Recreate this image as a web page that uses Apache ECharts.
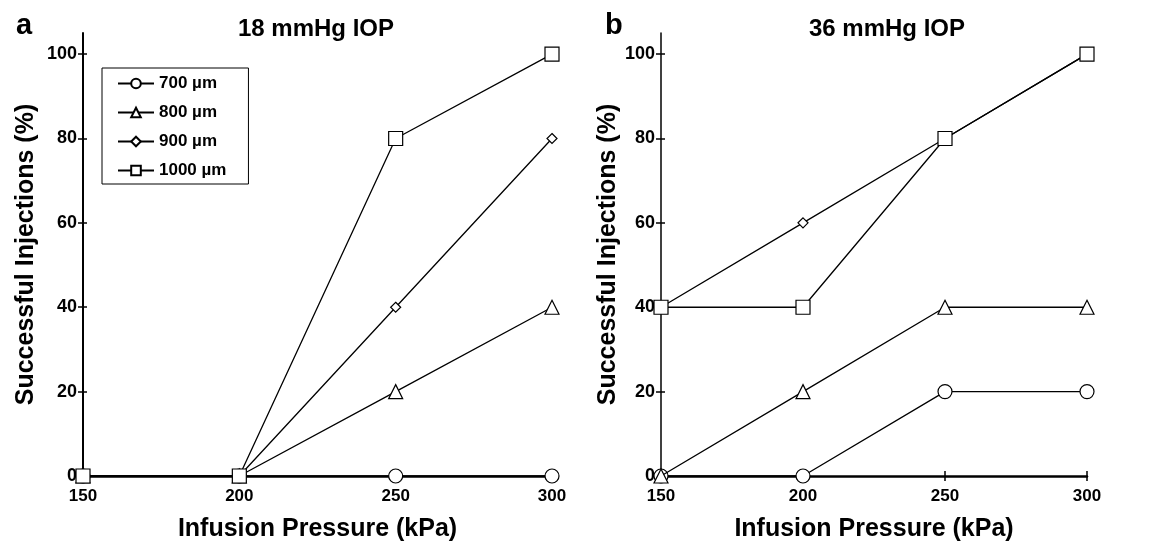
<!DOCTYPE html>
<html><head><meta charset="utf-8">
<script src="https://cdn.jsdelivr.net/npm/echarts@6/dist/echarts.min.js"></script>
<style>html,body{margin:0;padding:0;background:#fff}#c{width:1155px;height:547px}</style>
</head><body><div id="c"></div>
<script>
const pressures = [150, 200, 250, 300];
const seriesNames = ['700 µm', '800 µm', '900 µm', '1000 µm'];
const symbols = ['circle', 'triangle', 'diamond', 'rect'];
const symbolSizes = [14, 14, 10, 14];
// Panel a: 18 mmHg IOP
const a700 = [0, 0, 0, 0];
const a800 = [0, 0, 20, 40];
const a900 = [0, 0, 40, 80];
const a1000 = [0, 0, 80, 100];
// Panel b: 36 mmHg IOP
const b700 = [0, 0, 20, 20];
const b800 = [0, 20, 40, 40];
const b900 = [40, 60, 80, 100];
const b1000 = [40, 40, 80, 100];
const yTicks = [0, 20, 40, 60, 80, 100];
const titles = ['18 mmHg IOP', '36 mmHg IOP'];
const panelLetters = ['a', 'b'];

const font = 'Liberation Sans, Arial, sans-serif';
const panels = [[a700, a800, a900, a1000], [b700, b800, b900, b1000]];
const grids = [
  {left: 83, right: 603, top: 33, bottom: 70},
  {left: 661, right: 68, top: 33, bottom: 70}
];
const yAxW = [2, 1.5];
const yNameGap = [44, 37];
const xAxes = [], yAxes = [], series = [];
grids.forEach((g, i) => {
  xAxes.push({
    type: 'value', gridIndex: i, min: 150, max: 300, interval: 50,
    name: 'Infusion Pressure (kPa)', nameLocation: 'middle', nameGap: 41,
    nameTextStyle: {fontFamily: font, fontWeight: 'bold', fontSize: 25, color: '#000'},
    axisLine: {lineStyle: {color: '#000', width: 2.5}},
    axisTick: {show: true, length: 5, lineStyle: {color: '#000', width: 1.5}},
    axisLabel: {fontFamily: font, fontWeight: 'bold', fontSize: 17, color: '#000', margin: 12},
    splitLine: {show: false}
  });
  // companion axis for the inward half of the crossing ticks
  xAxes.push({
    type: 'value', gridIndex: i, min: 150, max: 300, interval: 50, position: 'bottom',
    axisLine: {show: false},
    axisTick: {show: true, inside: true, length: 5, lineStyle: {color: '#000', width: 1.5}},
    axisLabel: {show: false}, splitLine: {show: false}
  });
  yAxes.push({
    type: 'value', gridIndex: i, min: 0, max: 105,
    name: 'Successful Injections (%)', nameLocation: 'middle', nameGap: yNameGap[i], nameRotate: 90,
    nameTextStyle: {fontFamily: font, fontWeight: 'bold', fontSize: 25, color: '#000'},
    axisLine: {show: true, lineStyle: {color: '#000', width: yAxW[i]}},
    axisTick: {show: true, length: 5, customValues: yTicks, lineStyle: {color: '#000', width: 1.5}},
    axisLabel: {fontFamily: font, fontWeight: 'bold', fontSize: 18, color: '#000', margin: 6, customValues: yTicks},
    splitLine: {show: false}
  });
  yAxes.push({
    type: 'value', gridIndex: i, min: 0, max: 105, position: 'left',
    axisLine: {show: false},
    axisTick: {show: true, inside: true, length: 4, customValues: yTicks, lineStyle: {color: '#000', width: 1.5}},
    axisLabel: {show: false}, splitLine: {show: false}
  });
  panels[i].forEach((vals, k) => {
    series.push({
      name: seriesNames[k], type: 'line', xAxisIndex: 2 * i, yAxisIndex: 2 * i,
      data: pressures.map((p, j) => [p, vals[j]]),
      symbol: symbols[k], symbolSize: symbolSizes[k],
      showAllSymbol: true,
      lineStyle: {color: '#000', width: 1.3},
      itemStyle: {color: '#fff', borderColor: '#000', borderWidth: 1.2},
      emphasis: {disabled: true},
      z: 3 + k
    });
  });
});

const chart = echarts.init(document.getElementById('c'), null, {renderer: 'canvas'});
chart.setOption({
  animation: false,
  backgroundColor: '#fff',
  grid: grids,
  xAxis: xAxes,
  yAxis: yAxes,
  title: [
    {text: titles[0], left: 311, top: 12, textAlign: 'center', textStyle: {fontFamily: font, fontWeight: 'bold', fontSize: 24, color: '#000'}},
    {text: titles[1], left: 882, top: 12, textAlign: 'center', textStyle: {fontFamily: font, fontWeight: 'bold', fontSize: 24, color: '#000'}},
    {text: panelLetters[0], left: 11, top: 6, textStyle: {fontFamily: font, fontWeight: 'bold', fontSize: 29, color: '#000'}},
    {text: panelLetters[1], left: 600, top: 6, textStyle: {fontFamily: font, fontWeight: 'bold', fontSize: 29, color: '#000'}}
  ],
  legend: {
    data: seriesNames, orient: 'vertical', left: 102, top: 68,
    padding: [7, 22, 5, 15], itemGap: 12,
    itemWidth: 36, itemHeight: 12,
    borderColor: '#000', borderWidth: 1,
    textStyle: {fontFamily: font, fontWeight: 'bold', fontSize: 17, color: '#000'},
    selectedMode: false
  },
  series: series
});
</script></body></html>
